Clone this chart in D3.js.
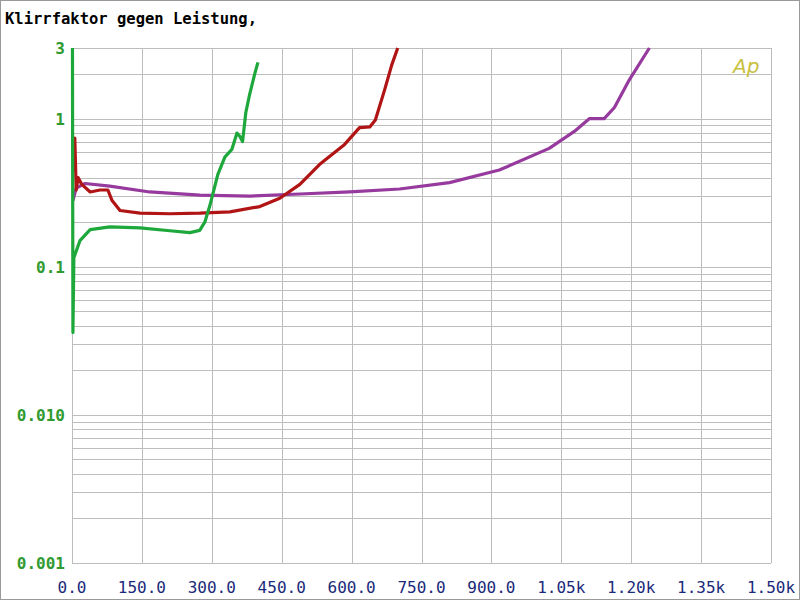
<!DOCTYPE html>
<html><head><meta charset="utf-8">
<script src="https://cdn.jsdelivr.net/npm/d3@7"></script>
<style>body{margin:0;background:#fff}svg{display:block}</style>
</head><body>
<script>
// Klirrfaktor (%) vs Leistung (W)
var xTicks = [0, 150, 300, 450, 600, 750, 900, 1050, 1200, 1350, 1500];
var xTickLabels = ["0.0", "150.0", "300.0", "450.0", "600.0", "750.0", "900.0", "1.05k", "1.20k", "1.35k", "1.50k"];
var yTicks = [3, 1, 0.1, 0.01, 0.001];
var yTickLabels = ["3", "1", "0.1", "0.010", "0.001"];

var green = [[1,3],[2,0.036],[4,0.115],[17,0.15],[39,0.178],[81,0.186],[146,0.183],[210,0.175],[253,0.17],[274,0.176],[285,0.2],[296,0.26],[313,0.42],[328,0.55],[343,0.62],[354,0.8],[360,0.76],[366,0.7],[373,1.1],[381,1.45],[392,2.0],[399,2.4]];
var red = [[2,0.72],[4,0.45],[6,0.74],[9,0.33],[13,0.4],[21,0.36],[39,0.32],[60,0.33],[77,0.33],[86,0.28],[103,0.24],[146,0.23],[210,0.228],[274,0.23],[339,0.235],[403,0.255],[446,0.29],[489,0.36],[531,0.49],[585,0.67],[617,0.87],[639,0.88],[651,0.98],[671,1.57],[686,2.3],[699,3]];
var purple = [[2,0.28],[9,0.34],[28,0.365],[81,0.35],[167,0.32],[274,0.305],[381,0.3],[489,0.31],[596,0.32],[703,0.335],[810,0.37],[917,0.45],[1024,0.63],[1078,0.82],[1110,1.0],[1142,1.0],[1164,1.19],[1196,1.83],[1239,3]];

var svg = d3.select("body").append("svg").attr("width", 800).attr("height", 600);
svg.append("rect").attr("x", 0.5).attr("y", 0.5).attr("width", 799).attr("height", 599)
    .attr("fill", "#fff").attr("stroke", "#999");

var x = d3.scaleLinear().domain([0, 1500]).range([72, 771]);
var y = d3.scaleLog().domain([0.001, 3]).range([563, 48]);

// grid
var g = svg.append("g").attr("stroke", "#bdbdbd").attr("stroke-width", 1);
var minor = [];
[0.001, 0.01, 0.1, 1].forEach(function(d) {
    for (var k = 1; k < 10; k++) if (d * k <= 3) minor.push(d * k);
});
minor.push(3);
g.selectAll("line.h").data(minor).enter().append("line")
    .attr("x1", 72).attr("x2", 771)
    .attr("y1", function(d) { return Math.round(y(d)) + 0.5; })
    .attr("y2", function(d) { return Math.round(y(d)) + 0.5; });
g.selectAll("line.v").data(xTicks).enter().append("line")
    .attr("y1", 48).attr("y2", 563)
    .attr("x1", function(d) { return Math.round(x(d)) + 0.5; })
    .attr("x2", function(d) { return Math.round(x(d)) + 0.5; });

svg.append("text").attr("x", 5).attr("y", 24).text("Klirrfaktor gegen Leistung,")
    .attr("font-family", "DejaVu Sans Mono").attr("font-weight", "bold").attr("font-size", 15.5);

svg.selectAll("text.y").data(yTicks).enter().append("text")
    .attr("x", 65).attr("y", function(d) { return y(d) + 6; })
    .attr("text-anchor", "end").attr("fill", "#2f9a2f")
    .attr("font-family", "DejaVu Sans Mono").attr("font-weight", "bold").attr("font-size", 16)
    .text(function(d, i) { return yTickLabels[i]; });

svg.selectAll("text.x").data(xTicks).enter().append("text")
    .attr("x", function(d) { return x(d); }).attr("y", 593)
    .attr("text-anchor", "middle").attr("fill", "#1a2a7a")
    .attr("font-family", "DejaVu Sans Mono").attr("font-size", 16)
    .text(function(d, i) { return xTickLabels[i]; });

svg.append("text").attr("x", 733).attr("y", 73).text("Ap")
    .attr("fill", "#c8c040").attr("font-family", "DejaVu Sans").attr("font-style", "italic")
    .attr("font-weight", 300).attr("font-size", 20);

var line = d3.line().x(function(d) { return x(d[0]); }).y(function(d) { return y(d[1]); });
[[purple, "#973a9e"], [red, "#b01414"], [green, "#1ea83c"]].forEach(function(s) {
    svg.append("path").datum(s[0]).attr("d", line).attr("fill", "none")
        .attr("stroke", s[1]).attr("stroke-width", 3.2).attr("stroke-linejoin", "round");
});
</script>
</body></html>
